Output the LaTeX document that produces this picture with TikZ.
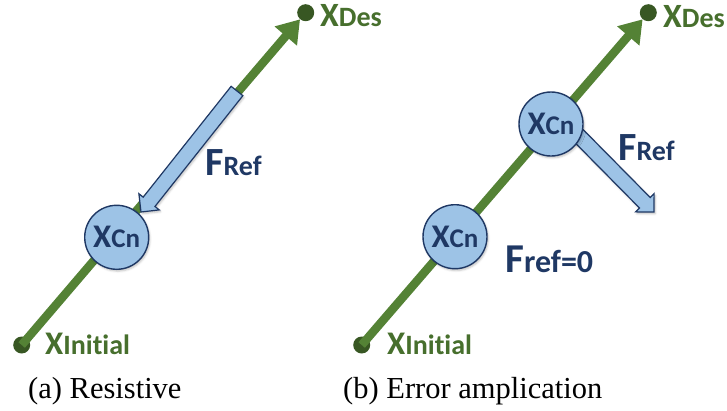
\documentclass[tikz,border=0pt]{standalone}
\usepackage{fontspec}
\setmainfont{Liberation Serif}
\newfontfamily\lblfont[Ligatures=NoCommon]{Carlito}
\usetikzlibrary{arrows.meta,calc,shadows.blur}
\definecolor{lineg}{HTML}{548235}
\definecolor{dotg}{HTML}{385723}
\definecolor{txtg}{HTML}{476F2D}
\definecolor{bfill}{HTML}{9DC3E6}
\definecolor{bnavy}{HTML}{1F3864}
\tikzset{
  trajline/.style={draw=lineg, line width=8.5pt, -{Triangle[width=28pt,length=22pt]}},
  enddot/.style={circle, fill=dotg, inner sep=0pt, minimum size=17pt},
  softshadow/.style={blur shadow={shadow xshift=1.2pt, shadow yshift=-1.8pt, shadow blur radius=2pt, shadow opacity=25}},
  cnode/.style={circle, draw=bnavy, line width=1.4pt, fill=bfill, minimum size=64pt, inner sep=0pt, text=bnavy, font=\lblfont\bfseries, softshadow},
  blockarrow/.style={draw=bnavy, line width=1.2pt, fill=bfill, line join=miter, softshadow},
  glabel/.style={anchor=base west, inner sep=0pt, text=txtg, font=\lblfont\bfseries},
  blabel/.style={anchor=base west, inner sep=0pt, text=bnavy, font=\lblfont\bfseries},
  captionlbl/.style={anchor=base west, inner sep=0pt, font=\fontsize{30.5}{30.5}\selectfont},
}
\newcommand\blkarrow[2]{%
  \coordinate (#1-b) at ($(#2)!13pt!(#1)$);
  \filldraw[blockarrow] ($(#1)!7.5pt!90:(#2)$) -- ($(#1-b)!7.5pt!90:(#2)$) -- ($(#1-b)!13pt!90:(#2)$) -- (#2)
    -- ($(#1-b)!13pt!-90:(#2)$) -- ($(#1-b)!7.5pt!-90:(#2)$) -- ($(#1)!7.5pt!-90:(#2)$) -- cycle;%
}
\newcommand\xcn{{\fontsize{33}{33}\selectfont X}{\fontsize{27}{27}\selectfont Cn}}
\begin{document}
\begin{tikzpicture}[x=1pt,y=-1pt]
\path[use as bounding box] (0,0) rectangle (727,410);
% ---------- panel (a) ----------
\node[enddot] (ini1) at (21.7,345) {};
\node[enddot] (des1) at (305.7,12.7) {};
\draw[trajline] (ini1.center) -- (des1);
\coordinate (fa1) at (237,91);
\coordinate (fb1) at (141,212);
\blkarrow{fa1}{fb1}
\node[cnode] (cn1) at (116.7,237.3) {\xcn};
\node[glabel] (ldes1) at (320,26) {{\fontsize{34}{34}\selectfont X}{\fontsize{28}{28}\selectfont Des}};
\node[glabel] (lini1) at (45,354) {{\fontsize{33}{33}\selectfont X}{\fontsize{28}{28}\selectfont Initial}};
\node[blabel] (fref1) at (205,175) {{\fontsize{40}{40}\selectfont F}{\fontsize{28}{28}\selectfont Ref}};
\node[captionlbl] (cap1) at (28,398) {(a) Resistive};
% ---------- panel (b) ----------
\node[enddot] (ini2) at (361.7,345) {};
\node[enddot] (des2) at (648.3,12.7) {};
\draw[trajline] (ini2.center) -- (des2);
\coordinate (fa2) at (572,129);
\coordinate (fb2) at (654,212);
\blkarrow{fa2}{fb2}
\node[cnode] (cn2) at (455,236.7) {\xcn};
\node[cnode] (cn3) at (551,124) {\xcn};
\node[glabel] (ldes2) at (663,27) {{\fontsize{34}{34}\selectfont X}{\fontsize{28}{28}\selectfont Des}};
\node[glabel] (lini2) at (387,354) {{\fontsize{33}{33}\selectfont X}{\fontsize{28}{28}\selectfont Initial}};
\node[blabel] (fref2) at (618,160) {{\fontsize{40}{40}\selectfont F}{\fontsize{28}{28}\selectfont Ref}};
\node[blabel] (fzero) at (505,272) {{\fontsize{41}{41}\selectfont F}{\fontsize{32}{32}\selectfont ref=0}};
\node[captionlbl] (cap2) at (343,398) {(b) Error amplication};
\end{tikzpicture}
\end{document}
